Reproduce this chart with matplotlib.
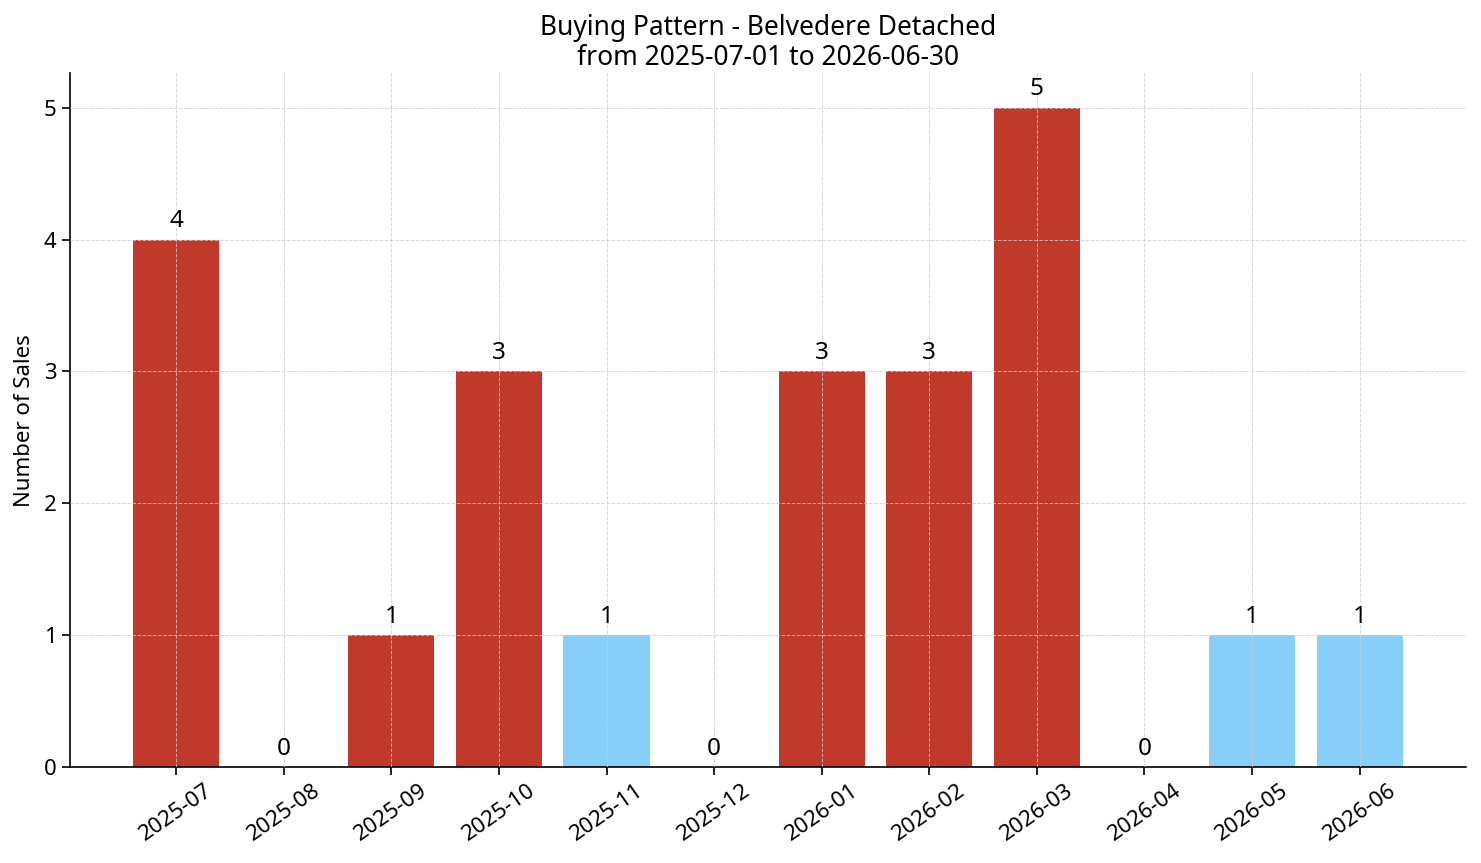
import matplotlib
matplotlib.use('Agg')
from matplotlib import pyplot as plt

plt.rcParams['font.family'] = ['Noto Sans', 'DejaVu Sans']

months = ['2025-07', '2025-08', '2025-09', '2025-10', '2025-11', '2025-12',
          '2026-01', '2026-02', '2026-03', '2026-04', '2026-05', '2026-06']
sales = [4, 0, 1, 3, 1, 0, 3, 3, 5, 0, 1, 1]
highlight = [True, False, True, True, False, False, True, True, True, False, False, False]

red = '#c0392b'
blue = '#87cefa'
colors = [red if h else blue for h in highlight]

fig = plt.figure(figsize=(14.81, 8.63), dpi=100)
ax = fig.add_axes([0.047, 0.111, 0.943, 0.804])
x = list(range(len(months)))
bars = ax.bar(x, sales, color=colors, width=0.8, zorder=2)
for xi, v in zip(x, sales):
    ax.text(xi, v + 0.05, str(v), ha='center', va='bottom', fontsize=17.5)

ax.set_xticks(x)
ax.set_xticklabels(months, rotation=35, fontsize=16)
ax.tick_params(axis='both', labelsize=16, length=6, width=1.2)
ax.set_ylabel('Number of Sales', fontsize=16, labelpad=6)
ax.set_title('Buying Pattern - Belvedere Detached\nfrom 2025-07-01 to 2026-06-30', fontsize=19, linespacing=1.1)
ax.set_ylim(0, 5.26)
ax.grid(True, linestyle='--', color='#cccccc', linewidth=0.7, alpha=0.8, zorder=3)
ax.set_axisbelow(False)
ax.spines['top'].set_visible(False)
ax.spines['right'].set_visible(False)
ax.spines['left'].set_linewidth(1.2)
ax.spines['bottom'].set_linewidth(1.2)

plt.savefig('out.png', dpi=100)
